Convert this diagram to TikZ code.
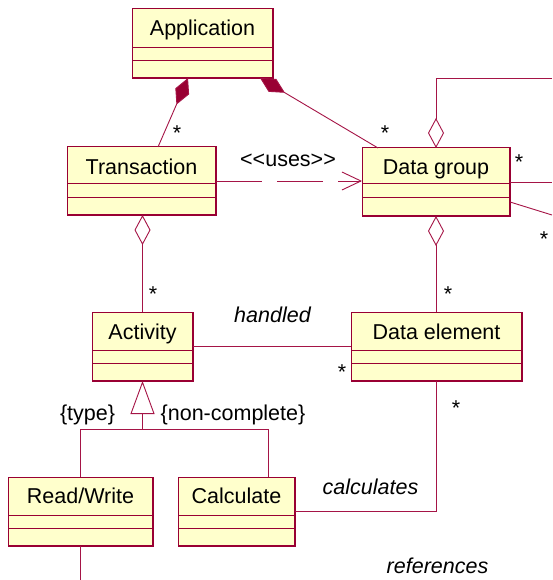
\documentclass[tikz,border=0pt]{standalone}
\usepackage{fontspec}
\setmainfont{Liberation Sans}
\usetikzlibrary{arrows.meta,calc}
\definecolor{umlred}{RGB}{153,0,51}
\definecolor{umlfill}{RGB}{255,255,204}
\definecolor{linkred}{RGB}{165,20,70}
\tikzset{
  cls/.style={draw=umlred, fill=umlfill, line width=1pt, anchor=north west, inner sep=0pt, outer sep=0pt},
  edge3d/.style={draw=umlred, line width=1.8pt},
  divline/.style={draw=umlred, line width=0.9pt},
  link/.style={draw=linkred, line width=0.9pt},
  lbl/.style={font=\fontsize{21.5}{24}\selectfont, inner sep=0pt, anchor=base},
  ilbl/.style={font=\fontsize{21.5}{24}\selectfont\itshape, inner sep=0pt, anchor=base},
  mult/.style={font=\fontsize{21.5}{24}\selectfont, inner sep=0pt, anchor=center},
  comp/.style={-{Diamond[fill=umlred, length=29pt, width=15pt]}},
  aggr/.style={-{Diamond[open, fill=white, length=30pt, width=16pt]}},
  genz/.style={-{Triangle[open, fill=white, length=33pt, width=24pt]}},
  usesarrow/.style={-{Straight Barb[length=19pt, width=18pt]}},
}
\begin{document}
\begin{tikzpicture}[x=1pt, y=-1pt]
\useasboundingbox (0,0) rectangle (552,580);
\fill[white] (0,0) rectangle (552,580);

% ---------- classes ----------
% Application
\node[cls, minimum width=141pt, minimum height=69pt] (app) at (132,9) {};
\draw[edge3d] (app.north east) -- (app.south east) -- (app.south west);
\draw[divline] (app.west |- 0,47) -- (app.east |- 0,47);
\draw[divline] (app.west |- 0,60) -- (app.east |- 0,60);
\node[lbl] (appname) at (202.5,36) {Application};

% Transaction
\node[cls, minimum width=149pt, minimum height=68pt] (trans) at (67,147) {};
\draw[edge3d] (trans.north east) -- (trans.south east) -- (trans.south west);
\draw[divline] (trans.west |- 0,183) -- (trans.east |- 0,183);
\draw[divline] (trans.west |- 0,197) -- (trans.east |- 0,197);
\node[lbl] (transname) at (141.5,175) {Transaction};

% Data group
\node[cls, minimum width=148pt, minimum height=68pt] (dg) at (362,148) {};
\draw[edge3d] (dg.north east) -- (dg.south east) -- (dg.south west);
\draw[divline] (dg.west |- 0,183) -- (dg.east |- 0,183);
\draw[divline] (dg.west |- 0,197) -- (dg.east |- 0,197);
\node[lbl] (dgname) at (436,175) {Data group};

% Activity
\node[cls, minimum width=101pt, minimum height=69pt] (act) at (92,312) {};
\draw[edge3d] (act.north east) -- (act.south east) -- (act.south west);
\draw[divline] (act.west |- 0,350) -- (act.east |- 0,350);
\draw[divline] (act.west |- 0,363) -- (act.east |- 0,363);
\node[lbl] (actname) at (142.5,339) {Activity};

% Data element
\node[cls, minimum width=171pt, minimum height=69pt] (de) at (351,312) {};
\draw[edge3d] (de.north east) -- (de.south east) -- (de.south west);
\draw[divline] (de.west |- 0,350) -- (de.east |- 0,350);
\draw[divline] (de.west |- 0,363) -- (de.east |- 0,363);
\node[lbl] (dename) at (436.5,339) {Data element};

% Read/Write
\node[cls, minimum width=145pt, minimum height=69pt] (rw) at (8,477) {};
\draw[edge3d] (rw.north east) -- (rw.south east) -- (rw.south west);
\draw[divline] (rw.west |- 0,515) -- (rw.east |- 0,515);
\draw[divline] (rw.west |- 0,528) -- (rw.east |- 0,528);
\node[lbl] (rwname) at (80.5,503) {Read/Write};

% Calculate
\node[cls, minimum width=117pt, minimum height=69pt] (calc) at (178,477) {};
\draw[edge3d] (calc.north east) -- (calc.south east) -- (calc.south west);
\draw[divline] (calc.west |- 0,515) -- (calc.east |- 0,515);
\draw[divline] (calc.west |- 0,528) -- (calc.east |- 0,528);
\node[lbl] (calcname) at (236.5,503) {Calculate};

% ---------- free ends and bends ----------
\coordinate (eA) at (552,78);
\coordinate (eB) at (552,182);
\coordinate (eC) at (552,215);
\coordinate (eD) at (80.5,580);
\coordinate (g) at (142.5,429);
\coordinate (g2) at (268,429);

% ---------- connectors ----------
\path[link, comp] (trans.north -| 158,0) -- (app.south -| 188,0);
\path[link, comp] (dg.north -| 378,0) -- (app.south -| 260,0);
\path[link, aggr] (eA) -- (436,78) -- (dg.north);
\path[link] (dg.east) -- (eB);
\path[link] (dg.east |- 0,202) -- (eC);
\path[link, aggr] (de.north -| dg.south) -- (dg.south);
\path[link, aggr] (act.north) -- (act.north |- trans.south);
\path[link, dash pattern=on 46pt off 15pt, usesarrow] (trans.east) -- (trans.east -| dg.west);
\path[link] (act.east |- 0,346) -- (de.west |- 0,346);
\path[link, genz] (g) -- (act.south);
\path[link] (rw.north) |- (g2) -- (g2 |- calc.north);
\path[link] (calc.east |- 0,511) -| (de.south);
\path[link] (rw.south) -- (eD);

% ---------- labels ----------
\node[mult] (m1) at (177,133) {*};
\node[mult] (m2) at (385,133) {*};
\node[mult] (m3) at (519,162) {*};
\node[mult] (m4) at (544,239) {*};
\node[mult] (m5) at (153,294) {*};
\node[mult] (m6) at (448,294) {*};
\node[mult] (m7) at (342,372) {*};
\node[mult] (m8) at (456,408) {*};

\node[lbl] (uses) at (288,167) {{<}{<}uses{>}{>}};
\node[ilbl] (handled) at (272.5,322) {handled};
\node[lbl] (type) at (87.5,420) {\{type\}};
\node[lbl] (noncomp) at (233,420) {\{non-complete\}};
\node[ilbl] (calcs) at (370.5,494) {calculates};
\node[ilbl] (refs) at (437.5,573) {references};
\end{tikzpicture}
\end{document}
